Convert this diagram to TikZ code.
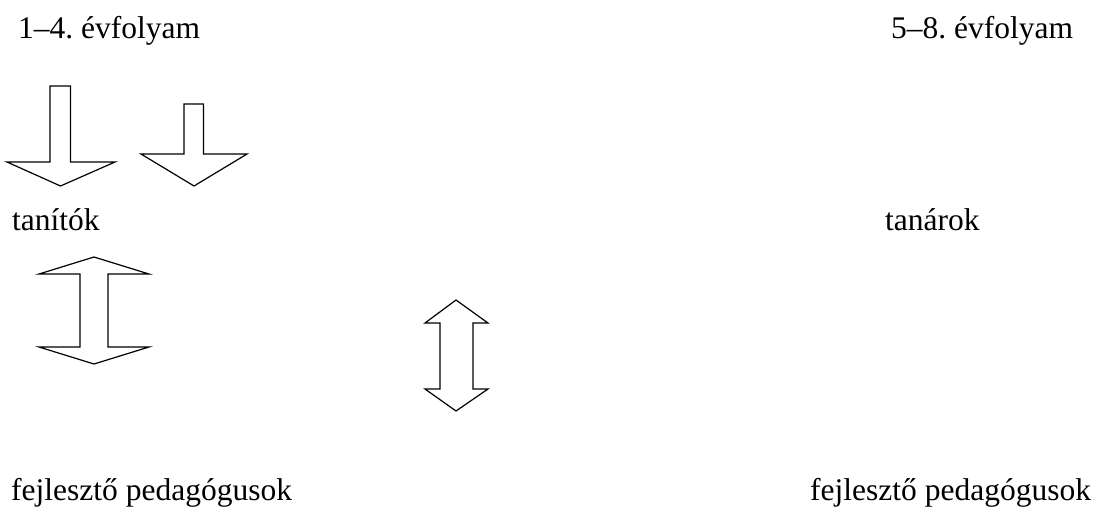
\documentclass[tikz,border=0pt]{standalone}
\usepackage{fontspec}
\setmainfont{Liberation Serif}
\usepackage{tikz}
\usetikzlibrary{positioning}
\frenchspacing
\tikzset{
  lbl/.style={anchor=base west,inner sep=0pt,font=\fontsize{31.5}{36}\selectfont},
  blockarr/.style={draw=black,fill=white,line width=1.2pt,line join=miter},
}

\begin{document}
\begin{tikzpicture}[x=1pt,y=-1pt]
  \useasboundingbox (0,0) rectangle (1095,515);
  % headings
  \node[lbl] (grlow) at (18,38) {1--4. évfolyam};
  \node[lbl] (grhigh) at (891,38) {5--8. évfolyam};
  \node[lbl] (tanitok) at (12,230) {tanítók};
  \node[lbl] (tanarok) at (885,230) {tanárok};
  \node[lbl] (fejlA) at (11,500) {fejlesztő pedagógusok};
  \node[lbl] (fejlB) at (810,500) {fejlesztő pedagógusok};
  % down arrows
  \draw[blockarr] (50,86) -- (70.5,86) -- (70.5,162) -- (115,162) -- (60.5,186)
    -- (7,162) -- (50,162) -- cycle;
  \draw[blockarr] (184,104) -- (203.5,104) -- (203.5,154) -- (247,154) -- (194,186)
    -- (141,154) -- (184,154) -- cycle;
  % double arrows
  \draw[blockarr] (94,257) -- (149,274) -- (108,274) -- (108,347) -- (149,347)
    -- (94,364) -- (39,347) -- (80,347) -- (80,274) -- (39,274) -- cycle;
  \draw[blockarr] (456,300) -- (488,323) -- (473,323) -- (473,389) -- (488,389)
    -- (456,411) -- (425,389) -- (440,389) -- (440,323) -- (425,323) -- cycle;
\end{tikzpicture}
\end{document}
